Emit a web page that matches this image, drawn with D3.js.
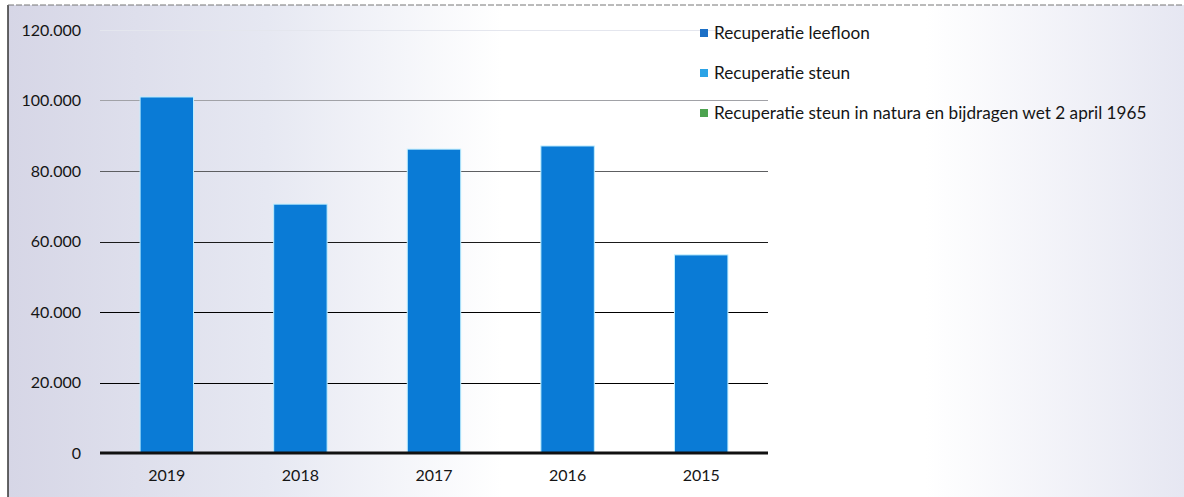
<html>
<head>
<meta charset="utf-8">
<script src="https://d3js.org/d3.v7.min.js"></script>
<style>
body { margin: 0; background: #fff; }
svg { display: block; }
text { font-family: Lato, "Open Sans", sans-serif; fill: #151515; }
.axis text { font-size: 16px; }
.legend text { font-size: 17.2px; }
</style>
</head>
<body>
<svg width="1184" height="497"></svg>
<script>

var years = ["2019", "2018", "2017", "2016", "2015"];
var leefloon = [101000, 70600, 86200, 87100, 56200];
var seriesNames = ["Recuperatie leefloon", "Recuperatie steun", "Recuperatie steun in natura en bijdragen wet 2 april 1965"];
var seriesColors = ["#1b6fc6", "#2ba3e6", "#4ca34f"];
var yTicks = [0, 20000, 40000, 60000, 80000, 100000, 120000];

var svg = d3.select("svg"),
    margin = {top: 30, right: 416, bottom: 44, left: 100},
    width = +svg.attr("width") - margin.left - margin.right,
    height = +svg.attr("height") - margin.top - margin.bottom;

// scanned paper look
var defs = svg.append("defs");
var grad = defs.append("linearGradient").attr("id", "bg");
grad.append("stop").attr("offset", "0%").attr("stop-color", "#d6d6e6");
grad.append("stop").attr("offset", "22%").attr("stop-color", "#e6e8f2");
grad.append("stop").attr("offset", "42%").attr("stop-color", "#ffffff");
grad.append("stop").attr("offset", "78%").attr("stop-color", "#ffffff");
grad.append("stop").attr("offset", "100%").attr("stop-color", "#e6e7f2");

svg.append("rect").attr("x", 8).attr("y", 5).attr("width", 1176).attr("height", 492)
    .attr("fill", "url(#bg)");
svg.append("line").attr("x1", 8).attr("x2", 8).attr("y1", 5).attr("y2", 497)
    .attr("stroke", "#333").attr("stroke-width", 1.5);
svg.append("line").attr("x1", 8).attr("x2", 1184).attr("y1", 5).attr("y2", 5)
    .attr("stroke", "#777").attr("stroke-width", 1).attr("stroke-dasharray", "6,2");

var g = svg.append("g").attr("transform", "translate(" + margin.left + "," + margin.top + ")");

var x = d3.scaleBand().domain(years).range([0, width]).paddingInner(0.6).paddingOuter(0.3);
var y = d3.scaleLinear().domain([0, 120000]).range([height, 0]);

var fmt = function(d) { return d3.format(",")(d).replace(/,/g, "."); };

// gridlines, fading toward the top like the scan
var gridColor = d3.scaleLinear().domain([60000, 120000]).range(["#1a1a1a", "#e4e6ee"]);
g.append("g").selectAll("line")
    .data(yTicks.filter(d => d > 0))
    .enter().append("line")
    .attr("x1", 0).attr("x2", width)
    .attr("y1", d => Math.round(y(d)) + 0.5).attr("y2", d => Math.round(y(d)) + 0.5)
    .attr("stroke", d => gridColor(d))
    .attr("stroke-width", 1.2);

g.append("g")
    .attr("class", "axis")
    .call(d3.axisLeft(y).tickValues(yTicks).tickFormat(fmt).tickSize(0).tickPadding(19))
    .call(s => s.select(".domain").remove());

g.selectAll(".bar")
    .data(years)
    .enter().append("rect")
    .attr("class", "bar")
    .attr("x", d => x(d))
    .attr("width", x.bandwidth())
    .attr("y", (d, i) => y(leefloon[i]))
    .attr("height", (d, i) => height - y(leefloon[i]))
    .attr("fill", "#0a7bd6")
    .attr("stroke", "#bfefff")
    .attr("stroke-width", 1);

g.append("line")
    .attr("x1", 0).attr("x2", width)
    .attr("y1", height).attr("y2", height)
    .attr("stroke", "#111").attr("stroke-width", 3);

g.append("g")
    .attr("class", "axis")
    .attr("transform", "translate(0," + height + ")")
    .call(d3.axisBottom(x).tickSize(0).tickPadding(17))
    .call(s => s.select(".domain").remove());

// legend
var legend = svg.append("g").attr("class", "legend")
    .attr("transform", "translate(700,33)");
var item = legend.selectAll("g")
    .data(seriesNames)
    .enter().append("g")
    .attr("transform", (d, i) => "translate(0," + i * 40 + ")");
item.append("rect")
    .attr("x", 0).attr("y", -4).attr("width", 8).attr("height", 8)
    .attr("fill", (d, i) => seriesColors[i]);
item.append("text")
    .attr("x", 14).attr("dy", "0.35em")
    .text(d => d);

</script>
</body>
</html>
